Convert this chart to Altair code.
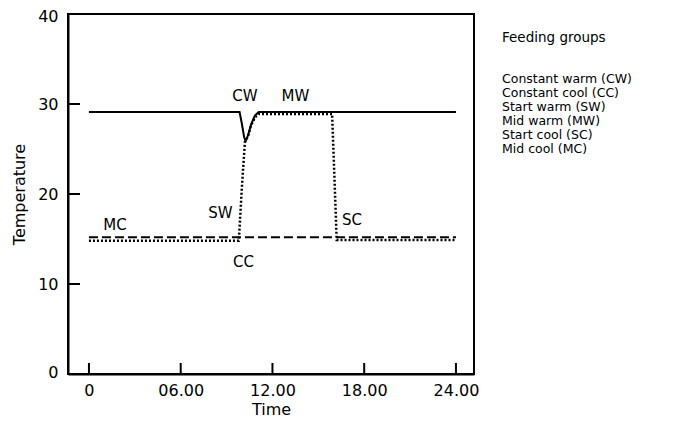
import altair as alt
import pandas as pd

# ---- data ----
# Constant warm (solid line, with the dip at transfer time)
cw_time = [0, 9.85, 10.0, 10.15, 10.25, 10.4, 10.6, 10.85, 11.1, 24]
cw_temp = [29.1, 29.1, 27.8, 26.3, 25.9, 26.5, 27.7, 28.7, 29.1, 29.1]
# Constant cool (dashed line)
cc_time = [0, 24]
cc_temp = [15.2, 15.2]
# Transferred groups (dotted line)
dot_time = [0, 9.8, 10.0, 10.2, 10.4, 10.6, 10.85, 11.1, 15.9, 16.05, 16.2, 24]
dot_temp = [14.8, 14.8, 20.7, 25.8, 26.4, 27.6, 28.5, 28.9, 28.9, 22.0, 14.9, 14.9]

# annotations on the curves
ann_text = ["CW", "MW", "SW", "CC", "MC", "SC"]
ann_time = [10.2, 13.5, 8.6, 10.1, 1.7, 17.2]
ann_temp = [30.9, 30.9, 17.9, 12.5, 16.6, 17.1]

# axes
x_ticks = [0, 6, 12, 18, 24]
x_tick_labels = ["0", "06.00", "12.00", "18.00", "24.00"]
y_ticks = [0, 10, 20, 30, 40]
x_domain = [-1.37, 25.18]
y_domain = [0, 40]

# legend text
legend_title = "Feeding groups"
legend_items = ["Constant warm (CW)", "Constant cool (CC)", "Start warm (SW)",
                "Mid warm (MW)", "Start cool (SC)", "Mid cool (MC)"]

FONT = "DejaVu Sans"
W, H = 406, 360

label_expr = " : ".join(
    [f"datum.value == {v} ? '{l}'" for v, l in zip(x_ticks, x_tick_labels)]
) + " : ''"

xs = alt.Scale(domain=x_domain, nice=False, zero=False)
ys = alt.Scale(domain=y_domain, nice=False, zero=False)

x_axis = alt.Axis(values=x_ticks, labelExpr=label_expr, ticks=False, tickSize=0,
                  grid=False, domainColor="black", domainWidth=2,
                  labelFont=FONT, labelFontSize=16, labelColor="black",
                  labelPadding=8, labelFlush=False,
                  title="Time", titleFont=FONT, titleFontSize=16,
                  titleFontWeight="normal", titleColor="black", titlePadding=3)
y_axis = alt.Axis(values=y_ticks, ticks=False, tickSize=0, grid=False,
                  domainColor="black", domainWidth=2,
                  labelFont=FONT, labelFontSize=16, labelColor="black",
                  labelPadding=10, labelFlush=True, labelFlushOffset=6,
                  title="Temperature", titleFont=FONT,
                  titleFontSize=16, titleFontWeight="normal", titleColor="black",
                  titlePadding=10)

cw_df = pd.DataFrame({"time": cw_time, "temp": cw_temp})
cc_df = pd.DataFrame({"time": cc_time, "temp": cc_temp})
dot_df = pd.DataFrame({"time": dot_time, "temp": dot_temp})

base_axes = alt.Chart(cw_df).mark_line(color="black", strokeWidth=2).encode(
    x=alt.X("time:Q", scale=xs, axis=x_axis),
    y=alt.Y("temp:Q", scale=ys, axis=y_axis),
)

cc_line = alt.Chart(cc_df).mark_line(color="black", strokeWidth=2, strokeDash=[9, 4]).encode(
    x=alt.X("time:Q", scale=xs), y=alt.Y("temp:Q", scale=ys)
)
dot_line = alt.Chart(dot_df).mark_line(color="black", strokeWidth=2.5, strokeDash=[2, 2]).encode(
    x=alt.X("time:Q", scale=xs), y=alt.Y("temp:Q", scale=ys)
)

ann_df = pd.DataFrame({"t": ann_text, "time": ann_time, "temp": ann_temp})
ann = alt.Chart(ann_df).mark_text(font=FONT, fontSize=15, color="black").encode(
    x=alt.X("time:Q", scale=xs), y=alt.Y("temp:Q", scale=ys), text="t:N"
)

# inward tick marks
yt_df = pd.DataFrame({"v": y_ticks[1:-1]})
y_tick_marks = alt.Chart(yt_df).mark_rule(color="black", strokeWidth=2).encode(
    y=alt.Y("v:Q", scale=ys), x=alt.value(0), x2=alt.value(12)
)
xt_df = pd.DataFrame({"v": x_ticks})
x_tick_marks = alt.Chart(xt_df).mark_rule(color="black", strokeWidth=2).encode(
    x=alt.X("v:Q", scale=xs), y=alt.value(H), y2=alt.value(H - 11)
)

# legend as plain text to the right of the plot
one = pd.DataFrame({"k": [0]})
legend_head = alt.Chart(one).mark_text(
    font=FONT, fontSize=13.5, color="black", align="left", baseline="middle"
).encode(x=alt.value(434), y=alt.value(24), text=alt.value(legend_title))
legend_body = alt.Chart(one).mark_text(
    font=FONT, fontSize=12.5, color="black", align="left", baseline="top",
    lineHeight=14
).encode(x=alt.value(434), y=alt.value(59), text=alt.value(legend_items))

chart = alt.layer(
    base_axes, cc_line, dot_line, ann, y_tick_marks, x_tick_marks,
    legend_head, legend_body
).properties(
    width=W, height=H,
    autosize=alt.AutoSizeParams(type="none"),
    padding={"left": 60, "top": 6, "right": 192, "bottom": 44},
).configure_view(stroke="black", strokeWidth=2)

chart.save("out.html", embed_options={"renderer": "svg", "actions": False})
